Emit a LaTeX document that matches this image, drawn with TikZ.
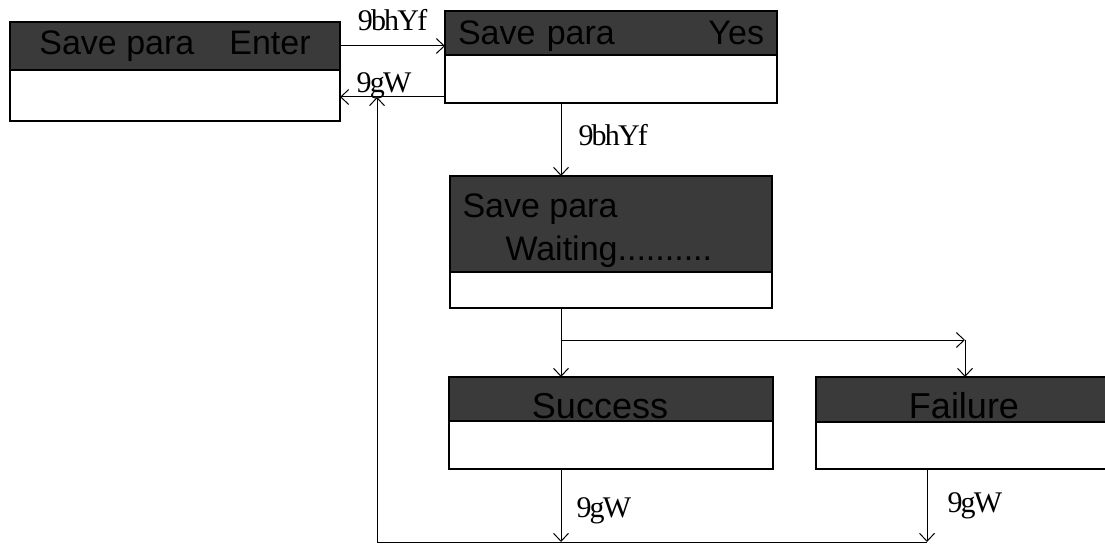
\documentclass[tikz,border=0pt]{standalone}
\usepackage{fontspec}
\usetikzlibrary{positioning,arrows.meta}
\newfontfamily\lcdfont{Liberation Sans}
\newfontfamily\keyfont[LetterSpace=-6]{Liberation Serif}
\definecolor{lcdgray}{HTML}{3A3A3A}

\begin{document}
\begin{tikzpicture}[x=1pt,y=-1pt,>={Straight Barb[length=8pt,width=15pt]},line width=1pt,
    lcd head/.style={draw,line width=1.2pt,fill=lcdgray,anchor=north west,inner sep=0pt,outer sep=0pt,font=\lcdfont\fontsize{34}{40}\selectfont},
    lcd body/.style={draw,line width=1.2pt,fill=white,inner sep=0pt,outer sep=0pt,below=0pt of #1},
    lcd text/.style={inner sep=0pt,font=\lcdfont\fontsize{34}{40}\selectfont},
    key label/.style={inner sep=0pt,font=\keyfont\fontsize{30}{32}\selectfont}]
    \useasboundingbox (0,0) rectangle (1105,548);

    % screens
    \node[lcd head] (h1) [minimum width=330pt,minimum height=48pt,text height=24pt,text depth=6pt] at (10,22) {Save para\hspace{35pt}Enter};
    \node[lcd body=h1] (b1) [minimum width=330pt,minimum height=51pt] {};
    \node[lcd head] (h2) [minimum width=332pt,minimum height=44pt,text width=306pt,text height=24pt,text depth=0pt] at (445,11) {Save para\hfill Yes\hspace*{11pt}};
    \node[lcd body=h2] (b2) [minimum width=332pt,minimum height=48pt] {};
    \node[lcd head] (h3) [minimum width=322pt,minimum height=96pt] at (450,176) {};
    \node[lcd text] (t3a) [anchor=base west] at ([shift={(12,42)}]h3.north west) {Save para};
    \node[lcd text] (t3b) [anchor=base west] at ([shift={(55,84)}]h3.north west) {Waiting..........};
    \node[lcd body=h3] (b3) [minimum width=322pt,minimum height=36pt] {};
    \node[lcd head] (h4) [minimum width=324pt,minimum height=44pt,text height=40pt,text depth=2pt,font=\lcdfont\fontsize{36}{40}\selectfont] at (449,377) {Success\hspace*{22pt}};
    \node[lcd body=h4] (b4) [minimum width=324pt,minimum height=48pt] {};
    \node[lcd head] (h5) [minimum width=296pt,minimum height=45pt,text height=40pt,text depth=2pt,font=\lcdfont\fontsize{36}{40}\selectfont] at (816,377) {Failure};
    \node[lcd body=h5] (b5) [minimum width=296pt,minimum height=47pt] {};

    % key paths
    \coordinate (spine) at (561,0);
    \coordinate (back) at ([yshift=6pt]b2.south west);
    \coordinate (fork) at (561,340);
    \coordinate (corner) at (965,340);
    \coordinate (ret) at (377,542);
    \coordinate (fdrop) at (927,542);
    \path[->]
        (h1.east) edge node[key label,above=15pt] {9bhYf} (h1.east -| h2.west)
        (back) edge node[key label,pos=0.58,anchor=base,yshift=4pt] {9gW} (back -| b1.east)
        (b2.south -| spine) edge node[key label,pos=0.58,anchor=base west,xshift=17pt] {9bhYf} (h3.north -| spine)
        (b3.south -| spine) edge (h4.north -| spine)
        (fork) edge (corner)
        (corner) edge (h5.north -| corner)
        (b4.south -| spine) edge node[key label,pos=0.67,anchor=base west,xshift=15pt] {9gW} (spine |- ret)
        (b5.south -| fdrop) edge node[key label,pos=0.59,anchor=base west,xshift=20pt] {9gW} (fdrop)
        (ret) edge (ret |- back)
    ;
    \draw (ret) -- (fdrop);

\end{tikzpicture}
\end{document}
